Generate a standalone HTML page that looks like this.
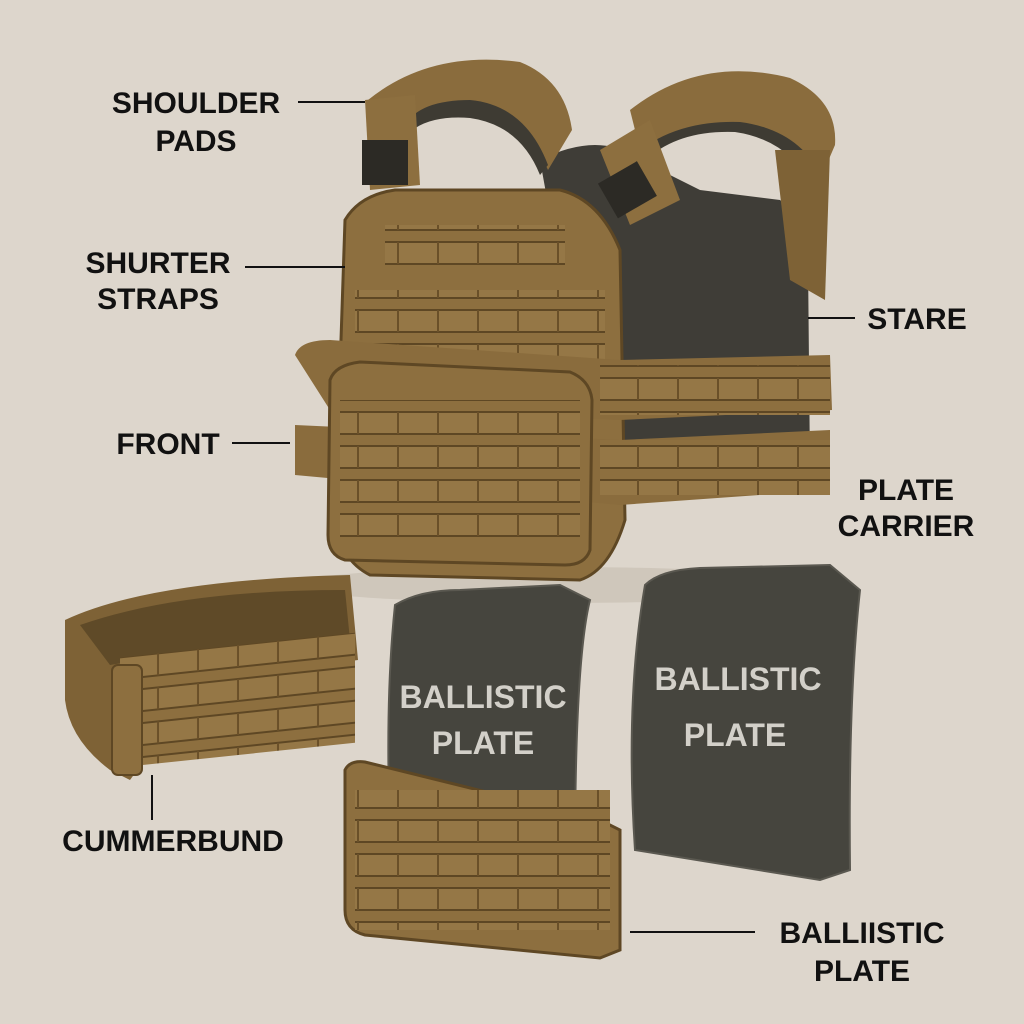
<!DOCTYPE html>
<html><head><meta charset="utf-8"><style>
html,body{margin:0;padding:0;background:#ddd6cc;}
svg{display:block}
text{font-family:"Liberation Sans",sans-serif;font-weight:bold;fill:#111;}
</style></head><body>
<svg width="1024" height="1024" viewBox="0 0 1024 1024" xmlns="http://www.w3.org/2000/svg">
<defs>
<pattern id="molle" width="40" height="34" patternUnits="userSpaceOnUse">
<rect width="40" height="34" fill="#8d6f3f"/>
<rect x="0" y="4" width="40" height="22" fill="#957746"/>
<line x1="0" y1="4" x2="40" y2="4" stroke="#5e4724" stroke-width="2"/>
<line x1="0" y1="26" x2="40" y2="26" stroke="#5e4724" stroke-width="2"/>
<line x1="38" y1="4" x2="38" y2="26" stroke="#6a5029" stroke-width="2"/>
</pattern>
</defs>
<rect width="1024" height="1024" fill="#ddd6cc"/>
<ellipse cx="560" cy="585" rx="270" ry="18" fill="#cfc7bb"/>

<!-- back plate carrier panel -->
<path d="M540 160 Q600 130 640 160 L700 190 L780 200 Q805 220 808 260 L810 470 Q700 500 600 490 Z" fill="#3f3d37"/>
<!-- shoulder pads -->
<path d="M368 100 Q430 50 520 62 Q565 80 572 130 L548 170 Q525 118 470 110 Q415 108 405 125 Z" fill="#8a6c3d"/>
<path d="M405 125 Q420 100 470 100 Q525 105 548 165 L540 175 Q520 125 470 118 Q430 115 410 132 Z" fill="#3e3b33"/>
<path d="M365 100 L415 95 L420 185 L370 190 Z" fill="#8d6f3f"/>
<rect x="362" y="140" width="46" height="45" fill="#2c2a25"/>
<path d="M630 110 Q700 55 790 78 Q838 100 835 145 L820 180 Q785 118 705 125 Q665 132 640 150 Z" fill="#8a6c3d"/>
<path d="M640 150 Q680 120 740 122 Q800 130 822 178 L815 190 Q790 140 735 132 Q680 130 648 158 Z" fill="#3e3b33"/>
<path d="M600 150 L650 120 L680 200 L630 225 Z" fill="#8d6f3f"/>
<rect x="605" y="170" width="45" height="40" transform="rotate(-30 627 190)" fill="#2c2a25"/>
<path d="M775 150 L830 150 L825 300 L790 280 Z" fill="#7e6236"/>
<!-- front panel -->
<path d="M345 220 Q360 195 395 190 L560 190 Q600 200 620 250 L625 520 Q610 570 580 580 L370 575 Q340 560 335 520 Z" fill="#8d6f3f" stroke="#5e4724" stroke-width="3"/>
<rect x="385" y="225" width="180" height="40" fill="url(#molle)"/>
<rect x="355" y="290" width="250" height="70" fill="url(#molle)"/>
<!-- cummerbund around carrier -->
<path d="M295 355 Q300 340 330 340 L620 360 L830 355 L832 410 L620 420 L330 410 Z" fill="#8a6c3d"/>
<path d="M295 425 L620 440 L830 430 L830 490 L620 505 L295 475 Z" fill="#8a6c3d"/>
<rect x="600" y="365" width="230" height="50" fill="url(#molle)"/>
<rect x="600" y="440" width="230" height="55" fill="url(#molle)"/>
<!-- front flap -->
<path d="M330 380 Q335 365 360 362 L570 372 Q590 380 592 400 L590 550 Q585 565 565 565 L345 560 Q328 555 328 535 Z" fill="#8d6f3f" stroke="#5e4724" stroke-width="3"/>
<rect x="340" y="400" width="240" height="140" fill="url(#molle)"/>

<!-- cummerbund separate -->
<path d="M65 620 Q150 580 350 575 L358 660 Q200 680 130 780 L110 770 Q70 740 65 700 Z" fill="#7e6236"/>
<path d="M80 625 Q180 590 345 590 L350 640 Q200 650 110 665 Z" fill="#5f4a28"/>
<rect x="120" y="650" width="235" height="110" fill="url(#molle)" transform="skewY(-6) translate(0 20)"/>
<rect x="112" y="665" width="30" height="110" rx="6" fill="#8d6f3f" stroke="#5e4724" stroke-width="2"/>

<!-- plates -->
<path d="M395 605 Q420 590 460 590 L560 585 L590 600 Q575 660 575 860 L450 870 L390 830 Q385 700 395 605 Z" fill="#46453e" stroke="#5a5850" stroke-width="2"/>
<text x="483" y="708" font-size="32" text-anchor="middle" style="fill:#d3d0c9">BALLISTIC</text>
<text x="483" y="754" font-size="32" text-anchor="middle" style="fill:#d3d0c9">PLATE</text>
<path d="M645 585 Q660 570 700 568 L830 565 L860 590 Q848 700 850 870 L820 880 L635 850 Q625 700 645 585 Z" fill="#46453e" stroke="#5a5850" stroke-width="2"/>
<text x="738" y="690" font-size="32" text-anchor="middle" style="fill:#d3d0c9">BALLISTIC</text>
<text x="735" y="746" font-size="32" text-anchor="middle" style="fill:#d3d0c9">PLATE</text>
<!-- plate pouch -->
<path d="M345 770 Q350 760 365 762 L600 820 L620 830 L620 950 L600 958 L365 935 Q345 930 345 910 Z" fill="#8d6f3f" stroke="#5e4724" stroke-width="3"/>
<rect x="355" y="790" width="255" height="140" fill="url(#molle)"/>

<!-- labels and lines -->
<g stroke="#111" stroke-width="2">
<line x1="298" y1="102" x2="365" y2="102"/>
<line x1="245" y1="267" x2="345" y2="267"/>
<line x1="808" y1="318" x2="855" y2="318"/>
<line x1="232" y1="443" x2="290" y2="443"/>
<line x1="152" y1="775" x2="152" y2="820"/>
<line x1="630" y1="932" x2="755" y2="932"/>
</g>
<g font-size="30">
<text x="196" y="113" text-anchor="middle">SHOULDER</text>
<text x="196" y="151" text-anchor="middle">PADS</text>
<text x="158" y="273" text-anchor="middle">SHURTER</text>
<text x="158" y="309" text-anchor="middle">STRAPS</text>
<text x="917" y="329" text-anchor="middle">STARE</text>
<text x="168" y="454" text-anchor="middle">FRONT</text>
<text x="906" y="500" text-anchor="middle">PLATE</text>
<text x="906" y="536" text-anchor="middle">CARRIER</text>
<text x="173" y="851" text-anchor="middle">CUMMERBUND</text>
<text x="862" y="943" text-anchor="middle">BALLIISTIC</text>
<text x="862" y="981" text-anchor="middle">PLATE</text>
</g>
</svg>
</body></html>
